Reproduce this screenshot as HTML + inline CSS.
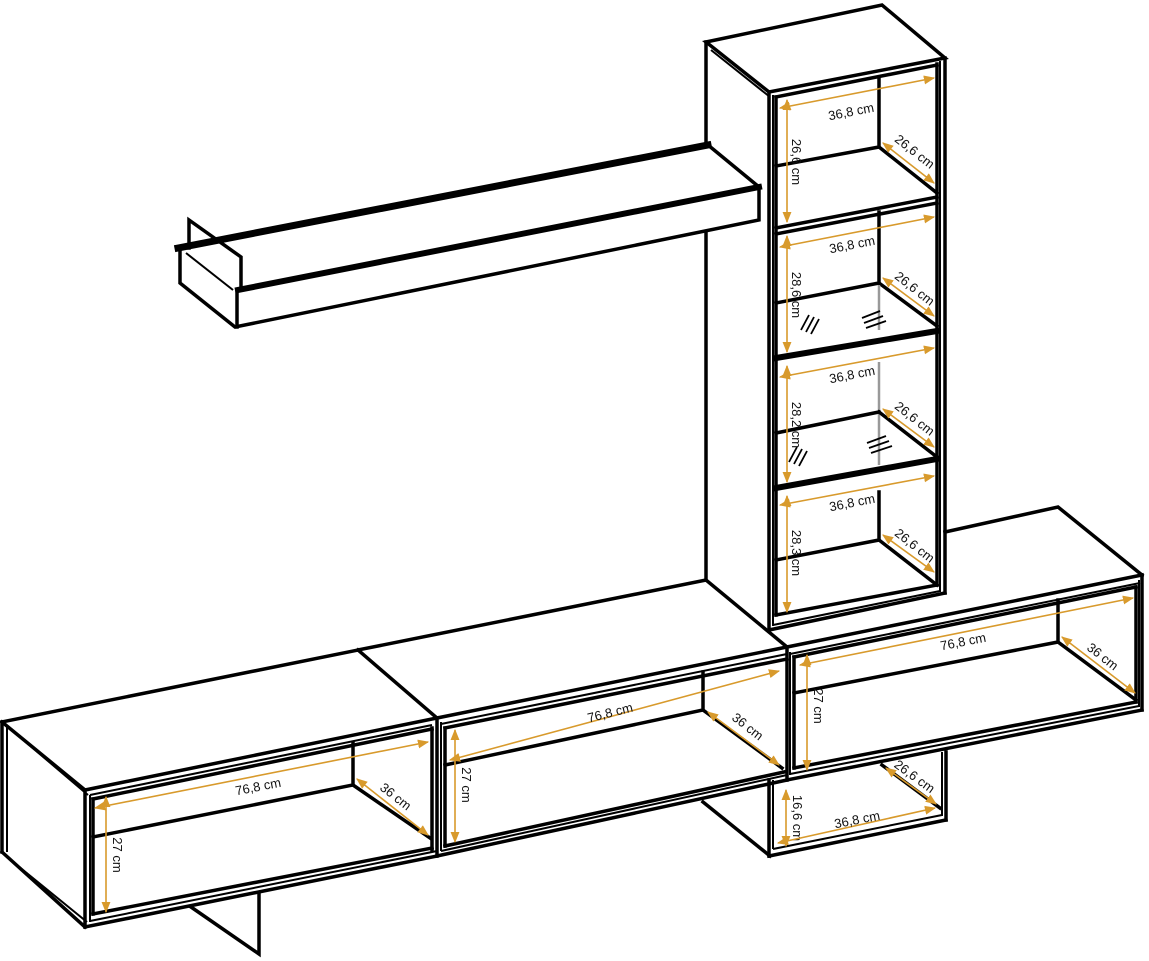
<!DOCTYPE html>
<html><head><meta charset="utf-8"><style>
html,body{margin:0;padding:0;background:#fff}
svg{display:block}
.k{stroke:#000;stroke-width:3.5;fill:none;stroke-linejoin:miter;stroke-linecap:square}
.t{stroke:#000;stroke-width:2;fill:none}
.g{stroke:#999;stroke-width:2.5;fill:none}
.o{stroke:#d89a2c;stroke-width:1.6;fill:none;marker-start:url(#a);marker-end:url(#a)}
text{font-family:"Liberation Sans",sans-serif;font-size:13px;fill:#111}
</style></head><body>
<svg width="1149" height="961" viewBox="0 0 1149 961" xmlns="http://www.w3.org/2000/svg">
<defs><marker id="a" viewBox="0 0 10 10" refX="9" refY="5" markerWidth="7" markerHeight="7" orient="auto-start-reverse"><path d="M0,1 L10,5 L0,9 Z" fill="#d89a2c"/></marker></defs>

<line class="k" x1="706" y1="42" x2="706" y2="145"/>
<line class="k" x1="706" y1="232" x2="706" y2="580"/>

<polyline class="k" points="178,248 708,145" style="stroke-width:7"/>
<polyline class="k" points="238,290 759,187" style="stroke-width:6"/>
<polyline class="k" points="708,145 759,187 759,220 235,327 180,283 180,248"/>
<line class="k" x1="237" y1="290" x2="237" y2="327"/>
<line class="t" x1="186" y1="253" x2="233" y2="290"/>
<polyline class="k" points="189,248 189,220 241,257 241,290"/>

<polygon class="k" points="706,42 882,5 945,58 769,92"/>
<line class="t" x1="711" y1="50" x2="770" y2="97"/>
<line class="k" x1="769" y1="92" x2="769" y2="630"/>
<line class="t" x1="773" y1="95" x2="773" y2="626"/>
<line class="k" x1="776" y1="97" x2="776" y2="615"/>
<line class="k" x1="945" y1="58" x2="945" y2="593"/>
<line class="t" x1="940" y1="61" x2="940" y2="592"/>
<line class="k" x1="937" y1="64" x2="937" y2="585"/>
<line class="k" x1="776" y1="97" x2="937" y2="65"/>
<line class="k" x1="769" y1="630" x2="945" y2="593"/>
<line class="t" x1="773" y1="625" x2="940" y2="591"/>
<line class="k" x1="776" y1="615" x2="937" y2="585"/>
<line class="k" x1="776" y1="228" x2="937" y2="197"/>
<line class="k" x1="776" y1="234" x2="937" y2="203"/>
<line class="k" x1="776" y1="358" x2="937" y2="331" style="stroke-width:6"/>
<line class="k" x1="776" y1="488" x2="937" y2="459" style="stroke-width:6"/>
<polyline class="k" points="879,78 879,147 776,166"/><line class="k" x1="879" y1="147" x2="937" y2="193"/>
<polyline class="k" points="879,212 879,283 776,303"/><line class="k" x1="879" y1="283" x2="937" y2="326"/>
<line class="g" x1="879" y1="285" x2="879" y2="330"/>
<line class="g" x1="879" y1="362" x2="879" y2="465"/>
<line class="k" x1="776" y1="433" x2="879" y2="412"/><line class="k" x1="879" y1="412" x2="937" y2="457"/>
<polyline class="k" points="879,492 879,540 776,560"/><line class="k" x1="879" y1="540" x2="937" y2="585"/>
<g class="t" style="stroke-width:1.8">
<line x1="801" y1="330" x2="809" y2="315"/><line x1="806" y1="332" x2="814" y2="317"/><line x1="811" y1="334" x2="819" y2="319"/>
<line x1="862" y1="318" x2="880" y2="311"/><line x1="864" y1="323" x2="883" y2="316"/><line x1="866" y1="328" x2="886" y2="321"/>
<line x1="789" y1="462" x2="797" y2="447"/><line x1="794" y1="464" x2="802" y2="449"/><line x1="799" y1="466" x2="807" y2="451"/>
<line x1="867" y1="443" x2="886" y2="436"/><line x1="869" y1="448" x2="889" y2="441"/><line x1="871" y1="453" x2="892" y2="446"/>
</g>
<line class="o" x1="780" y1="108" x2="934" y2="78"/>
<line class="o" x1="780" y1="247" x2="934" y2="217"/>
<line class="o" x1="780" y1="377" x2="934" y2="348"/>
<line class="o" x1="780" y1="505" x2="934" y2="476"/>
<text x="851" y="116" text-anchor="middle" transform="rotate(-11 851 111)">36,8 cm</text>
<text x="852" y="249" text-anchor="middle" transform="rotate(-11 852 244)">36,8 cm</text>
<text x="852" y="379" text-anchor="middle" transform="rotate(-11 852 374)">36,8 cm</text>
<text x="852" y="507" text-anchor="middle" transform="rotate(-11 852 502)">36,8 cm</text>
<line class="o" x1="787" y1="100" x2="787" y2="222"/>
<line class="o" x1="787" y1="236" x2="787" y2="352"/>
<line class="o" x1="787" y1="366" x2="787" y2="482"/>
<line class="o" x1="787" y1="496" x2="787" y2="612"/>
<text x="792" y="162" text-anchor="middle" transform="rotate(90 792 162)">26,6 cm</text>
<text x="792" y="295" text-anchor="middle" transform="rotate(90 792 295)">28,6 cm</text>
<text x="792" y="425" text-anchor="middle" transform="rotate(90 792 425)">28,2 cm</text>
<text x="792" y="553" text-anchor="middle" transform="rotate(90 792 553)">28,3 cm</text>
<line class="o" x1="883" y1="143" x2="934" y2="183"/>
<line class="o" x1="883" y1="278" x2="934" y2="316"/>
<line class="o" x1="883" y1="409" x2="934" y2="447"/>
<line class="o" x1="883" y1="535" x2="934" y2="572"/>
<text x="912" y="155" text-anchor="middle" transform="rotate(38 912 155)">26,6 cm</text>
<text x="912" y="292" text-anchor="middle" transform="rotate(38 912 292)">26,6 cm</text>
<text x="912" y="422" text-anchor="middle" transform="rotate(38 912 422)">26,6 cm</text>
<text x="912" y="549" text-anchor="middle" transform="rotate(38 912 549)">26,6 cm</text>

<polyline class="k" points="945,532 1058,507 1142,575"/>
<line class="k" x1="787" y1="647" x2="1142" y2="575"/>
<line class="t" x1="790" y1="654" x2="1140" y2="583"/>
<line class="k" x1="794" y1="657" x2="1136" y2="587"/>
<line class="k" x1="787" y1="647" x2="787" y2="780"/>
<line class="t" x1="790" y1="652" x2="790" y2="775"/>
<line class="k" x1="794" y1="657" x2="794" y2="768"/>
<line class="k" x1="1142" y1="575" x2="1142" y2="710"/>
<line class="t" x1="1139" y1="580" x2="1139" y2="707"/>
<line class="k" x1="1136" y1="587" x2="1136" y2="702"/>
<line class="k" x1="787" y1="780" x2="1142" y2="710"/>
<line class="t" x1="790" y1="774" x2="1139" y2="706"/>
<line class="k" x1="794" y1="768" x2="1136" y2="702"/>
<polyline class="k" points="1058,600 1058,642 794,693"/>
<line class="k" x1="1058" y1="642" x2="1136" y2="700"/>
<line class="o" x1="800" y1="665" x2="1133" y2="598"/>
<text x="963" y="646" text-anchor="middle" transform="rotate(-11 963 641)">76,8 cm</text>
<line class="o" x1="807" y1="655" x2="807" y2="770"/>
<text x="814" y="706" text-anchor="middle" transform="rotate(90 814 706)">27 cm</text>
<line class="o" x1="1062" y1="637" x2="1135" y2="693"/>
<text x="1100" y="660" text-anchor="middle" transform="rotate(38 1100 660)">36 cm</text>

<line class="k" x1="769" y1="780" x2="769" y2="856"/>
<line class="t" x1="773" y1="780" x2="773" y2="849"/>
<line class="k" x1="946" y1="752" x2="946" y2="820"/>
<line class="t" x1="942" y1="752" x2="942" y2="816"/>
<line class="k" x1="769" y1="856" x2="946" y2="820"/>
<line class="t" x1="773" y1="849" x2="942" y2="815"/>
<line class="k" x1="882" y1="765" x2="940" y2="808"/>
<line class="k" x1="703" y1="802" x2="770" y2="856"/>
<line class="o" x1="786" y1="790" x2="786" y2="846"/>
<text x="793" y="818" text-anchor="middle" transform="rotate(90 793 818)">16,6 cm</text>
<line class="o" x1="778" y1="843" x2="935" y2="808"/>
<text x="857" y="824" text-anchor="middle" transform="rotate(-11 857 819)">36,8 cm</text>
<line class="o" x1="886" y1="768" x2="936" y2="804"/>
<text x="912" y="780" text-anchor="middle" transform="rotate(36 912 780)">26,6 cm</text>

<polyline class="k" points="358,650 706,580 787,647"/>
<line class="k" x1="358" y1="650" x2="437" y2="718"/>
<line class="k" x1="437" y1="718" x2="787" y2="647"/>
<line class="t" x1="441" y1="724" x2="787" y2="654"/>
<line class="k" x1="445" y1="728" x2="787" y2="659"/>
<line class="k" x1="437" y1="718" x2="437" y2="856"/>
<line class="t" x1="441" y1="722" x2="441" y2="851"/>
<line class="k" x1="445" y1="728" x2="445" y2="846"/>
<line class="k" x1="437" y1="856" x2="787" y2="780"/>
<line class="t" x1="441" y1="851" x2="787" y2="775"/>
<line class="k" x1="445" y1="846" x2="784" y2="772"/>
<polyline class="k" points="703,672 703,710 445,765"/>
<line class="k" x1="703" y1="710" x2="782" y2="768"/>
<line class="o" x1="450" y1="760" x2="779" y2="671"/>
<text x="610" y="717" text-anchor="middle" transform="rotate(-14 610 712)">76,8 cm</text>
<line class="o" x1="455" y1="730" x2="455" y2="842"/>
<text x="462" y="785" text-anchor="middle" transform="rotate(90 462 785)">27 cm</text>
<line class="o" x1="708" y1="712" x2="779" y2="765"/>
<text x="745" y="730" text-anchor="middle" transform="rotate(38 745 730)">36 cm</text>

<line class="k" x1="2" y1="722" x2="358" y2="650"/>
<line class="k" x1="2" y1="722" x2="85" y2="790"/>
<line class="t" x1="8" y1="727" x2="88" y2="795"/>
<line class="k" x1="85" y1="790" x2="437" y2="718"/>
<line class="t" x1="90" y1="795" x2="432" y2="725"/>
<line class="k" x1="93" y1="799" x2="432" y2="729"/>
<line class="k" x1="2" y1="722" x2="2" y2="852"/>
<line class="t" x1="7" y1="727" x2="7" y2="852"/>
<polyline class="k" points="2,852 85,927"/>
<line class="t" x1="7" y1="857" x2="87" y2="922"/>
<line class="k" x1="85" y1="790" x2="85" y2="927"/>
<line class="t" x1="90" y1="795" x2="90" y2="922"/>
<line class="k" x1="93" y1="799" x2="93" y2="914"/>
<line class="k" x1="432" y1="728" x2="432" y2="850"/>
<line class="k" x1="85" y1="927" x2="437" y2="856"/>
<line class="t" x1="90" y1="921" x2="437" y2="851"/>
<line class="k" x1="93" y1="914" x2="432" y2="848"/>
<polyline class="k" points="353,743 353,785 93,837"/>
<line class="k" x1="353" y1="785" x2="430" y2="838"/>
<polyline class="k" points="191,907 259,954 259,893"/>
<line class="o" x1="95" y1="808" x2="428" y2="742"/>
<text x="258" y="791" text-anchor="middle" transform="rotate(-11 258 786)">76,8 cm</text>
<line class="o" x1="106" y1="797" x2="106" y2="912"/>
<text x="113" y="855" text-anchor="middle" transform="rotate(90 113 855)">27 cm</text>
<line class="o" x1="357" y1="779" x2="428" y2="835"/>
<text x="393" y="800" text-anchor="middle" transform="rotate(38 393 800)">36 cm</text>
</svg>
</body></html>
